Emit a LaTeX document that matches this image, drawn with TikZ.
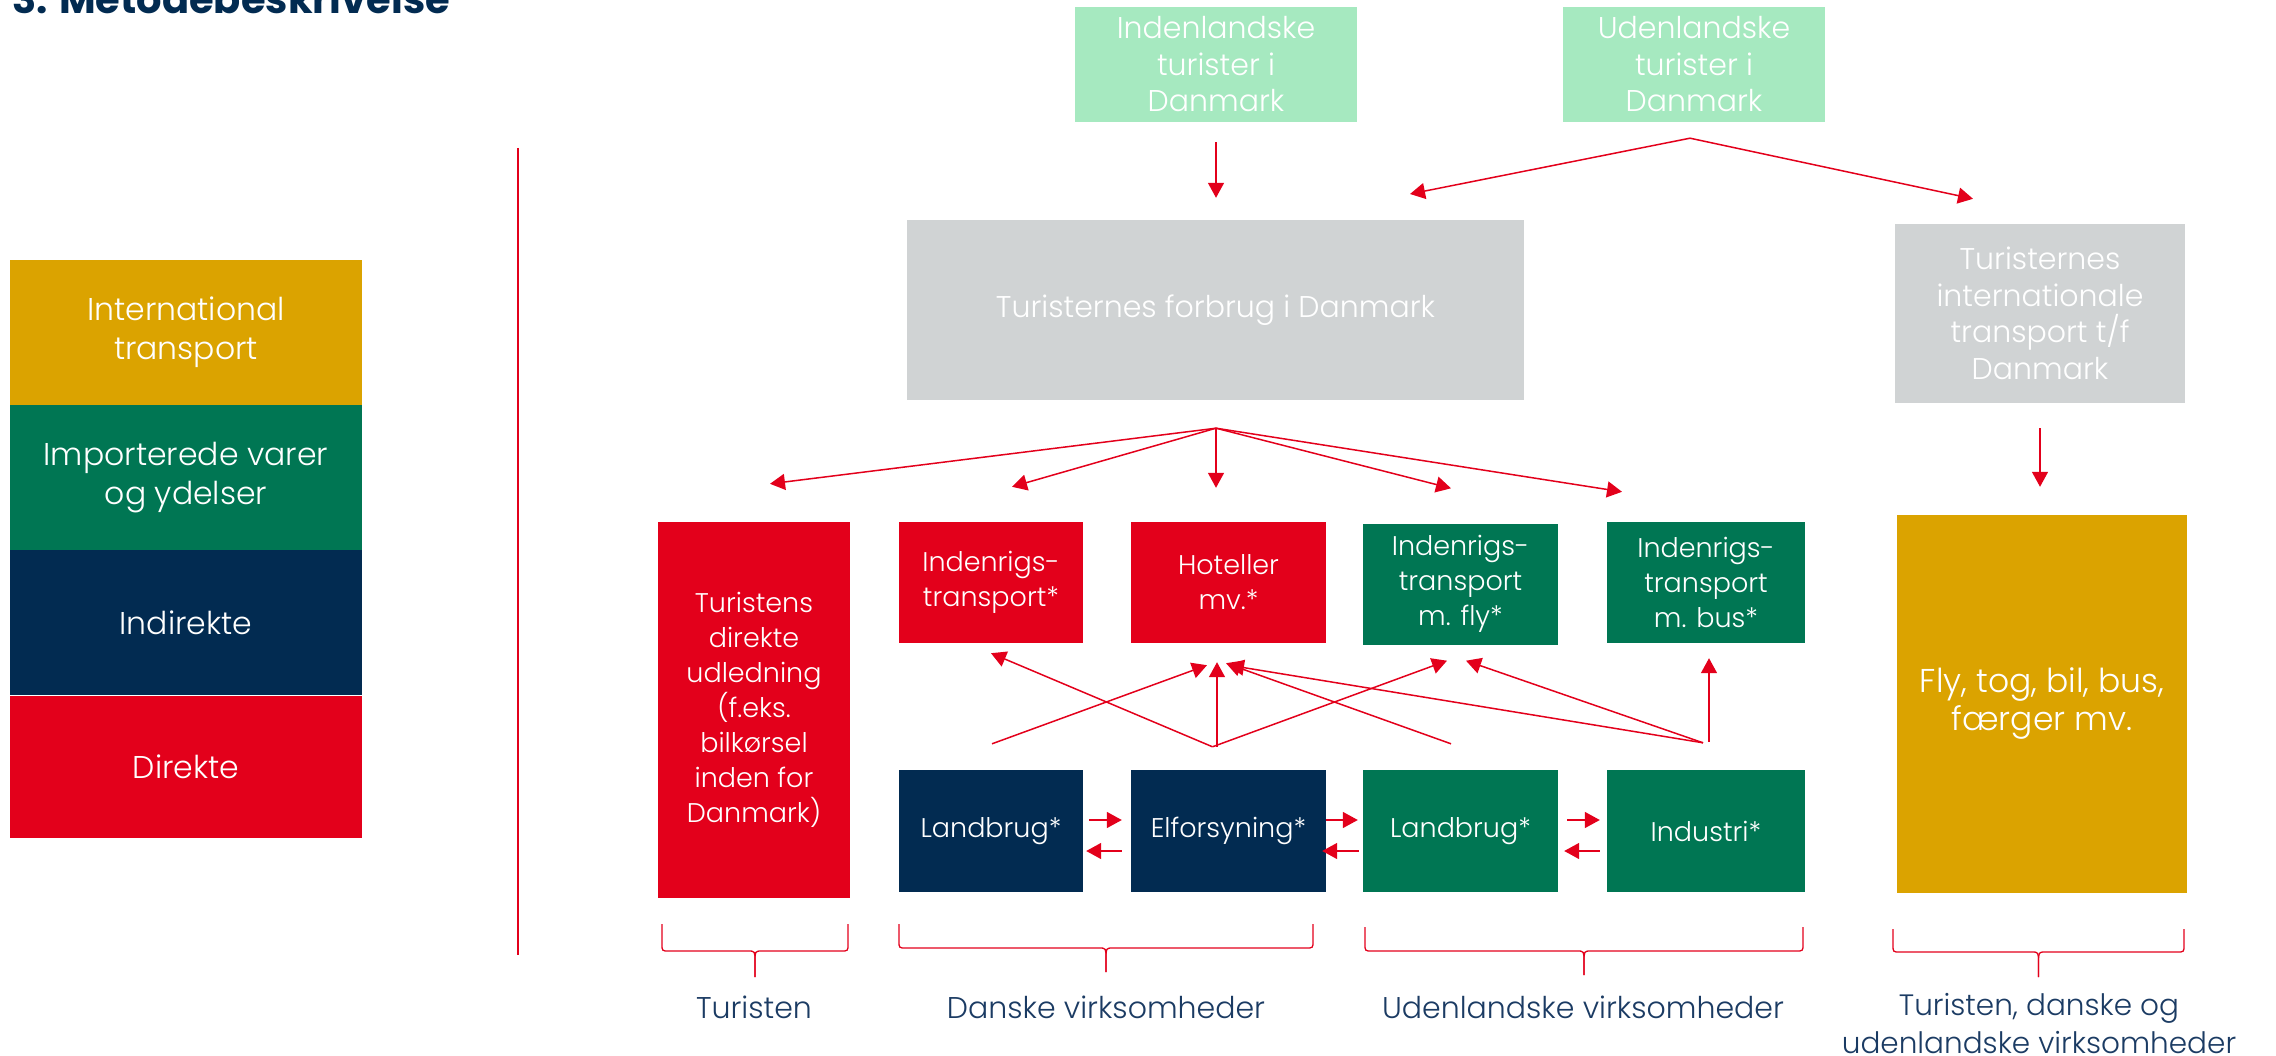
\documentclass[tikz,border=0pt]{standalone}
\usepackage{fontspec}
\setmainfont{Poppins}[UprightFont=* Light, BoldFont=* Bold]
\usetikzlibrary{arrows.meta,calc}
\definecolor{cred}{HTML}{E3001B}
\definecolor{cnavy}{HTML}{022B51}
\definecolor{cgreen}{HTML}{007653}
\definecolor{cyellow}{HTML}{DBA300}
\definecolor{clgreen}{HTML}{A6E9C0}
\definecolor{cgray}{HTML}{D0D3D4}
\definecolor{ctext}{HTML}{1B3B63}
\newcommand\tbrace[5]{%
  \pgfmathsetmacro\bcx{(#1+#2)/2}%
  \draw[bracestyle] (#1,#3) -- (#1,#4-7) .. controls (#1,#4) .. (#1+7,#4) -- (\bcx-7,#4) .. controls (\bcx,#4) .. (\bcx,#4+11) -- (\bcx,#5);
  \draw[bracestyle] (#2,#3) -- (#2,#4-7) .. controls (#2,#4) .. (#2-7,#4) -- (\bcx+7,#4) .. controls (\bcx,#4) .. (\bcx,#4+11) -- (\bcx,#5);
}
\begin{document}
\begin{tikzpicture}[x=1pt,y=-1pt,
  box/.style={rectangle, inner sep=0pt, align=center, text=white,
    font=\fontsize{27}{35}\selectfont},
  bigbox/.style={box, font=\fontsize{30}{36.5}\selectfont},
  legbox/.style={box, minimum width=352pt, minimum height=145pt,
    font=\fontsize{31.5}{39}\selectfont},
  arr/.style={draw=cred, line width=1.5pt, -{Triangle[length=15pt,width=16pt]}},
  bracestyle/.style={draw=cred, line width=1.3pt},
  lbl/.style={text=ctext, align=center, font=\fontsize{30}{37}\selectfont, anchor=base}
]
\useasboundingbox (0,0) rectangle (2276,1056);

% title (cut off at top)
\node[anchor=base west, inner sep=0pt, text=cnavy, font=\fontsize{40}{48}\selectfont\bfseries] (title) at (12,14) {3: Metodebeskrivelse};

% legend
\node[legbox, fill=cyellow] (lint) at (186,332.5) {International\\transport};
\node[legbox, fill=cgreen] (limp) at (186,477.5) {Importerede varer\\og ydelser};
\node[legbox, fill=cnavy] (lind) at (186,622.5) {Indirekte};
\node[legbox, fill=cred, minimum height=142pt] (ldir) at (186,767) {Direkte};

% separator
\coordinate (sepA) at (518,148);
\coordinate (sepB) at (518,955);
\draw[draw=cred, line width=1.3pt] (sepA) -- (sepB);

% top boxes
\node[bigbox, fill=clgreen, minimum width=282pt, minimum height=115pt] (inl) at (1216,64.5) {Indenlandske\\turister i\\Danmark};
\node[bigbox, fill=clgreen, minimum width=262pt, minimum height=115pt] (udl) at (1694,64.5) {Udenlandske\\turister i\\Danmark};

% gray boxes
\node[bigbox, fill=cgray, minimum width=617pt, minimum height=180pt] (forb) at (1215.5,310) {Turisternes forbrug i Danmark};
\node[bigbox, fill=cgray, minimum width=290pt, minimum height=179pt] (intl) at (2040,313.5) {Turisternes\\internationale\\transport t/f\\Danmark};

% middle row
\node[box, fill=cred, minimum width=192pt, minimum height=376pt] (tur) at (754,710) {Turistens\\direkte\\udledning\\(f.eks.\\bilkørsel\\inden for\\Danmark)};
\node[box, fill=cred, minimum width=184pt, minimum height=121pt] (itr) at (991,582.5) {Indenrigs-\\transport*};
\node[box, fill=cred, minimum width=195pt, minimum height=121pt] (hot) at (1228.5,582.5) {Hoteller\\mv.*};
\node[box, fill=cgreen, minimum width=195pt, minimum height=121pt] (fly) at (1460.5,584) {Indenrigs-\\transport\\m. fly*};
\node[box, fill=cgreen, minimum width=198pt, minimum height=121pt] (bus) at (1706,582.5) {Indenrigs-\\transport\\m. bus*};
\node[box, fill=cyellow, minimum width=290pt, minimum height=378pt, font=\fontsize{33}{38}\selectfont] (ftb) at (2042,704) {Fly, tog, bil, bus,\\færger mv.};

% bottom row
\node[box, fill=cnavy, minimum width=184pt, minimum height=122pt] (lbd) at (991,831) {Landbrug*};
\node[box, fill=cnavy, minimum width=195pt, minimum height=122pt] (elf) at (1228.5,831) {Elforsyning*};
\node[box, fill=cgreen, minimum width=195pt, minimum height=122pt] (lbu) at (1460.5,831) {Landbrug*};
\node[box, fill=cgreen, minimum width=198pt, minimum height=122pt] (ind) at (1706,831) {Industri*};

% top arrows
\draw[arr] ($(inl.south)+(0,20)$) -- ($(forb.north)+(0.5,-22)$);
\coordinate (udlo) at ($(udl.south)+(-4,16)$);
\draw[arr] (udlo) -- (1410,194);
\draw[arr] (udlo) -- ($(intl.north)+(-67,-25)$);

% forbrug fan
\coordinate (fo) at ($(forb.south)+(0.5,28)$);
\draw[arr] (fo) -- ($(tur.north)+(16,-38)$);
\draw[arr] (fo) -- ($(itr.north)+(21,-35)$);
\draw[arr] (fo) -- ($(hot.north)+(-12.5,-34)$);
\draw[arr] (fo) -- ($(fly.north)+(-9.5,-35)$);
\draw[arr] (fo) -- ($(bus.north)+(-84,-30)$);

% international transport
\draw[arr] ($(intl.south)+(0,25)$) -- ($(ftb.north)+(-2,-28)$);

% bottom-up arrows
\coordinate (elo) at ($(elf.north)+(-16,-23)$);
\coordinate (lbo) at ($(lbd.north)+(1,-26)$);
\coordinate (luo) at ($(lbu.north)+(-9.5,-26)$);
\coordinate (ino) at ($(ind.north)+(-3,-27)$);
\draw[arr] (elo) -- ($(itr.south)+(0,10)$);
\draw[arr] (lbo) -- ($(hot.south)+(-21.5,22)$);
\draw[arr] ($(elf.north)+(-11.5,-23)$) -- ($(hot.south)+(-11.5,19)$);
\draw[arr] (elo) -- ($(fly.south)+(-13.5,16)$);
\draw[arr] (luo) -- ($(hot.south)+(-2.5,20)$);
\draw[arr] (ino) -- ($(hot.south)+(0.5,22)$);
\draw[arr] (ino) -- ($(fly.south)+(5.5,16)$);
\draw[arr] ($(ind.north)+(3,-28)$) -- ($(bus.south)+(3,15)$);

% horizontal arrows
\draw[arr] ($(lbd.east)+(6,-11)$) -- ($(elf.west)+(-9,-11)$);
\draw[arr] ($(elf.west)+(-9,20)$) -- ($(lbd.east)+(3,20)$);
\draw[arr] ($(elf.east)+(0,-11)$) -- ($(lbu.west)+(-5,-11)$);
\draw[arr] ($(lbu.west)+(-4,20)$) -- ($(elf.east)+(-4,20)$);
\draw[arr] ($(lbu.east)+(9,-11)$) -- ($(ind.west)+(-7,-11)$);
\draw[arr] ($(ind.west)+(-7,20)$) -- ($(lbu.east)+(6,20)$);

% braces
\tbrace{662}{848}{924}{951}{977}
\tbrace{899}{1313}{924}{948}{972}
\tbrace{1365}{1803}{927}{951}{975}
\tbrace{1893}{2184}{929}{952}{977}

% labels
\node[lbl] (l1) at (754,1018) {Turisten};
\node[lbl] (l2) at (1106,1018) {Danske virksomheder};
\node[lbl] (l3) at (1583,1018) {Udenlandske virksomheder};
\node[lbl, font=\fontsize{29.5}{38}\selectfont] (l4) at (2039,1053) {Turisten, danske og\\udenlandske virksomheder};
\end{tikzpicture}
\end{document}
